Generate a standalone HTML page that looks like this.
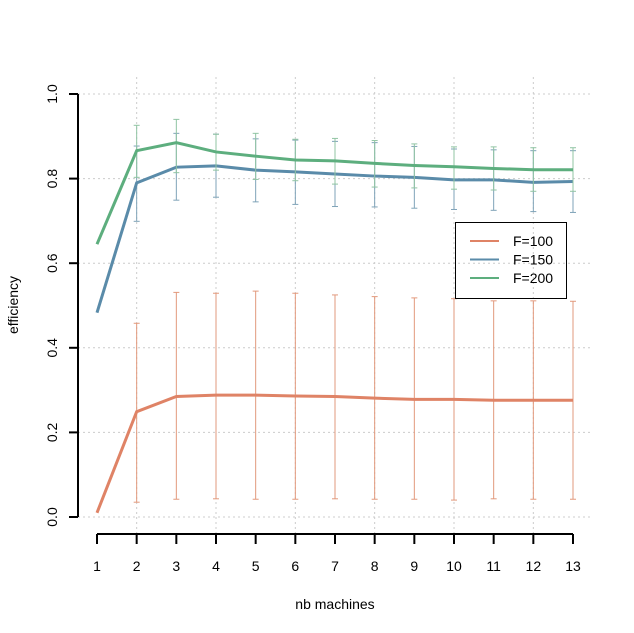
<!DOCTYPE html>
<html><head><meta charset="utf-8"><style>
body{margin:0;background:#fff}
svg{display:block;font-family:"Liberation Sans",sans-serif}
</style></head><body>
<svg id="c" width="634" height="633"></svg>
<script>
const xs=[1,2,3,4,5,6,7,8,9,10,11,12,13];
const xTicks=[1,2,3,4,5,6,7,8,9,10,11,12,13];
const yTicks=[0,0.2,0.4,0.6,0.8,1.0];
const yTickLabels=["0.0","0.2","0.4","0.6","0.8","1.0"];
const f100=[0.010,0.249,0.285,0.288,0.288,0.286,0.285,0.281,0.278,0.278,0.276,0.276,0.276];
const f100lo=[null,0.035,0.042,0.043,0.042,0.042,0.043,0.042,0.042,0.040,0.043,0.042,0.042];
const f100hi=[null,0.458,0.531,0.529,0.534,0.529,0.525,0.521,0.518,0.516,0.511,0.511,0.510];
const f150=[0.483,0.790,0.827,0.830,0.820,0.816,0.811,0.806,0.803,0.797,0.797,0.791,0.793];
const f150lo=[null,0.699,0.749,0.756,0.745,0.739,0.734,0.733,0.730,0.727,0.725,0.722,0.720];
const f150hi=[null,0.877,0.907,0.905,0.894,0.891,0.888,0.885,0.876,0.870,0.868,0.866,0.866];
const f200=[0.645,0.866,0.885,0.863,0.853,0.844,0.842,0.836,0.831,0.828,0.824,0.821,0.821];
const f200lo=[null,0.803,0.814,0.820,0.798,0.795,0.787,0.780,0.778,0.775,0.773,0.770,0.770];
const f200hi=[null,0.926,0.940,0.905,0.907,0.893,0.895,0.890,0.882,0.875,0.875,0.873,0.873];
const NS="http://www.w3.org/2000/svg",svg=document.getElementById('c');
const X=v=>97+(v-1)*(476/12), Y=v=>517-v*423;
function mk(t,a,p){const e=document.createElementNS(NS,t);for(const k in a)e.setAttribute(k,a[k]);(p||svg).appendChild(e);return e;}
[2,4,6,8,10,12].forEach(v=>{const l=mk('line',{x1:X(v),x2:X(v),y1:77,y2:534,stroke:'#ccc','stroke-dasharray':'2,3'});

});
yTicks.forEach(v=>{const l=mk('line',{x1:78,x2:592,y1:Y(v),y2:Y(v),stroke:'#ccc','stroke-dasharray':'2,3'});

});
const ya=mk('line',{x1:78,x2:78,y1:Y(1),y2:Y(0),stroke:'#000','stroke-width':2});


const xa=mk('line',{x1:X(1),x2:X(13),y1:534,y2:534,stroke:'#000','stroke-width':2});


yTicks.forEach((v,i)=>{mk('line',{x1:69,x2:78,y1:Y(v),y2:Y(v),stroke:'#000','stroke-width':2});
const t=mk('text',{x:0,y:0,'font-size':14,'text-anchor':'middle',transform:`translate(57,${Y(v)}) rotate(-90)`});t.textContent=yTickLabels[i];

});
xTicks.forEach(v=>{mk('line',{x1:X(v),x2:X(v),y1:534,y2:544,stroke:'#000','stroke-width':2});
const t=mk('text',{x:X(v),y:571,'font-size':14,'text-anchor':'middle'});t.textContent=v;

});
const xt=mk('text',{x:335,y:609,'font-size':14,'text-anchor':'middle'});xt.textContent='nb machines';


const yt=mk('text',{x:0,y:0,'font-size':14,'text-anchor':'middle',transform:'translate(18,305) rotate(-90)'});yt.textContent='efficiency';


function series(v,lo,hi,col,ecol,name){
  xs.forEach((x,i)=>{if(lo[i]==null)return;
    const g=mk('g',{stroke:ecol,'stroke-width':1});
    
    
    mk('line',{x1:X(x),x2:X(x),y1:Y(lo[i]),y2:Y(hi[i])},g);
    mk('line',{x1:X(x)-3,x2:X(x)+3,y1:Y(lo[i]),y2:Y(lo[i])},g);
    mk('line',{x1:X(x)-3,x2:X(x)+3,y1:Y(hi[i]),y2:Y(hi[i])},g);});
  const p=mk('polyline',{points:xs.map((x,i)=>X(x)+','+Y(v[i])).join(' '),fill:'none',stroke:col,'stroke-width':3});
  
  
}
series(f100,f100lo,f100hi,'#DF8366','#E2997C','f100');
series(f150,f150lo,f150hi,'#5A8BA9','#7FA3B8','f150');
series(f200,f200lo,f200hi,'#5DAE7E','#90C4A3','f200');
const lg=mk('g',{});


mk('rect',{x:455.5,y:222.5,width:111,height:76,fill:'none',stroke:'#000'},lg);
[['F=100','#DF8366'],['F=150','#5A8BA9'],['F=200','#5DAE7E']].forEach((e,i)=>{
  const g=mk('g',{},lg);
  
  
  mk('line',{x1:470,x2:499,y1:241+i*18.5,y2:241+i*18.5,stroke:e[1],'stroke-width':2},g);
  const t=mk('text',{x:513,y:246+i*18.5,'font-size':14},g);t.textContent=e[0];});
</script>
</body></html>
